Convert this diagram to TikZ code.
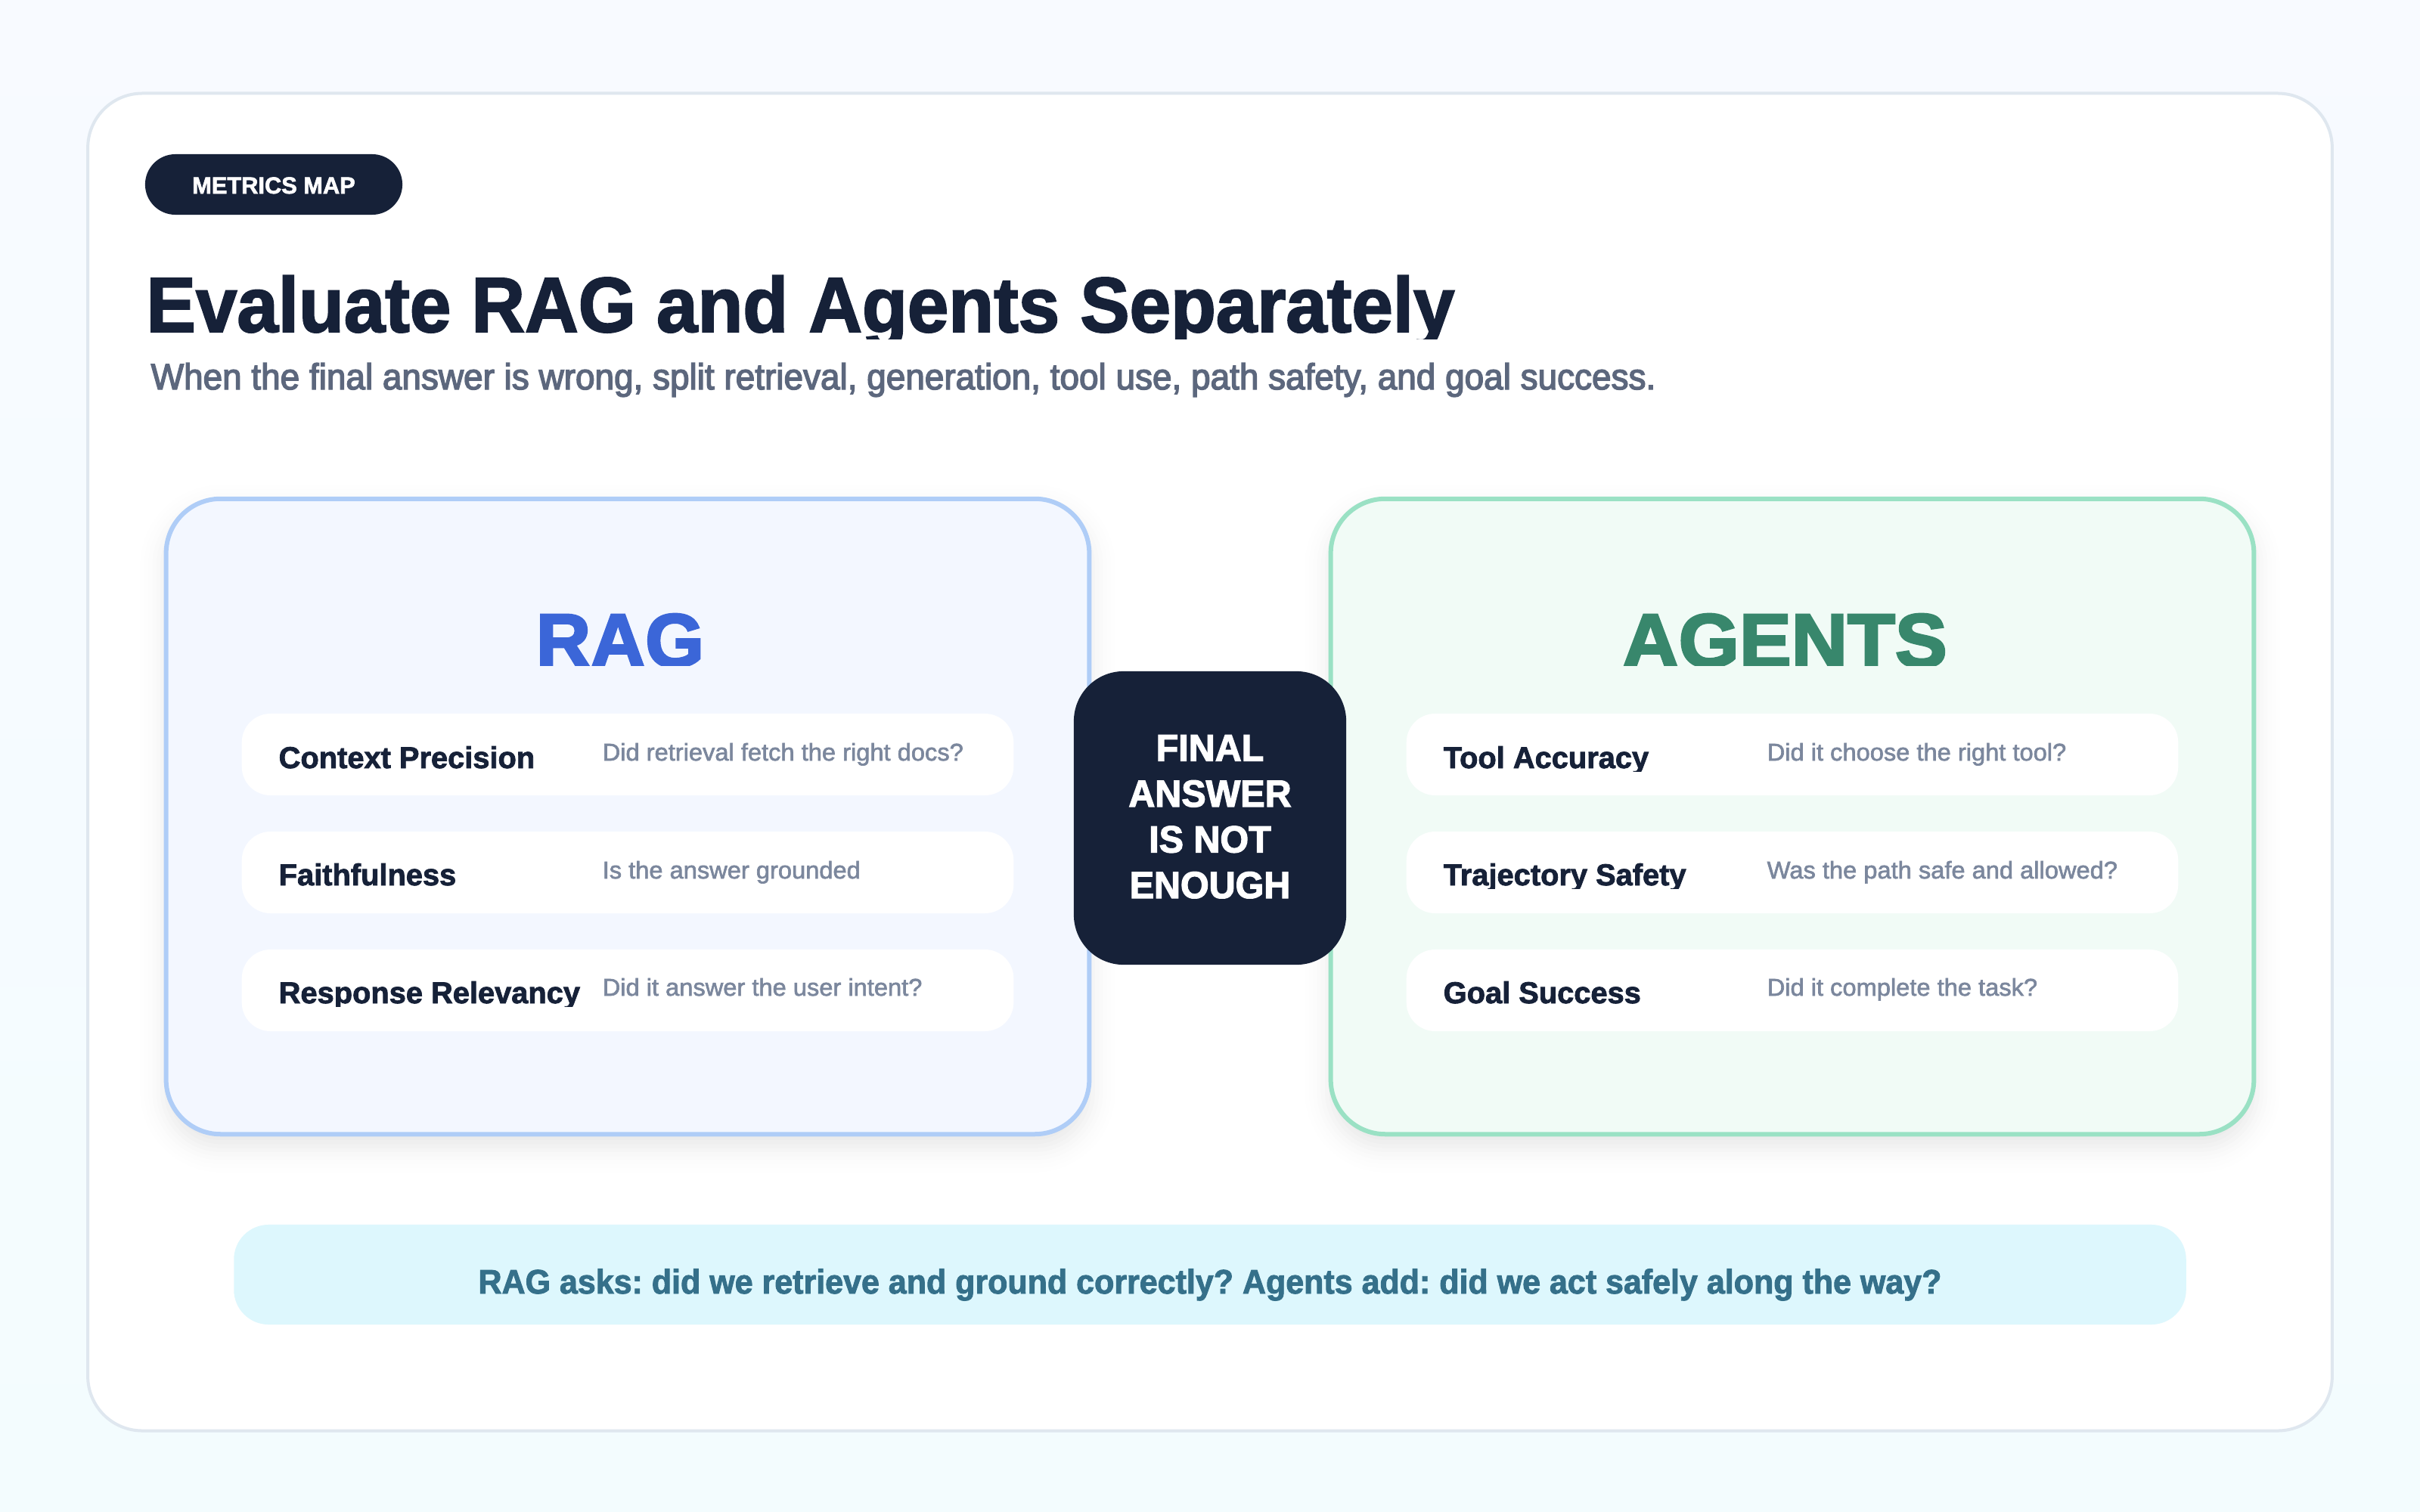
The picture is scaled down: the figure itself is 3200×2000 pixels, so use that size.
\documentclass[tikz,border=0pt]{standalone}
\usepackage{fontspec}
\usepackage{xcolor}
\setmainfont{Liberation Sans}
\newfontfamily\titlefont[FakeStretch=0.95,FakeBold=2]{Liberation Sans}
\newfontfamily\subfont[FakeStretch=0.953,FakeBold=3]{Liberation Sans}
\newfontfamily\descfont[FakeStretch=1.02,FakeBold=2]{Liberation Sans}
\newfontfamily\heavyfont[FakeStretch=0.97,FakeBold=2.5]{Liberation Sans}
\newfontfamily\headfont[FakeBold=3]{Liberation Sans}
\newfontfamily\headwidefont[FakeStretch=1.03,FakeBold=3]{Liberation Sans}
\newfontfamily\metricfont[FakeStretch=0.995,FakeBold=2]{Liberation Sans}
\newfontfamily\notefont[FakeStretch=0.955,FakeBold=2]{Liberation Sans}
\definecolor{navy}{HTML}{162138}
\definecolor{subgray}{HTML}{5C677D}
\definecolor{descgray}{HTML}{7B879D}
\definecolor{ragblue}{HTML}{3B66D8}
\definecolor{ragfill}{HTML}{F3F7FF}
\definecolor{ragline}{HTML}{AFCDF7}
\definecolor{agentgreen}{HTML}{38876C}
\definecolor{agentfill}{HTML}{F1FBF6}
\definecolor{agentline}{HTML}{9AE1C4}
\definecolor{notefill}{HTML}{DDF7FD}
\definecolor{notetext}{HTML}{35708A}
\definecolor{cardline}{HTML}{DFE7EF}
\frenchspacing
\begin{document}
\begin{tikzpicture}[x=0.01cm,y=-0.01cm]
		\tikzset{box/.style = {shape=rectangle, inner sep=0pt, outer sep=0pt}}
		\tikzset{panel/.style = {box, minimum width=12.2cm, minimum height=8.4cm, rounded corners=0.72cm, line width=0.06cm}}
		\tikzset{row/.style = {box, fill=white, minimum width=10.2cm, minimum height=1.08cm, rounded corners=0.38cm}}
		\tikzset{head/.style = {inner sep=0pt, anchor=base}}
		\tikzset{metric/.style = {inner sep=0pt, anchor=base west, text=navy, font=\metricfont\fontsize{11.38}{13}\selectfont\bfseries}}
		\tikzset{question/.style = {inner sep=0pt, anchor=base west, text=descgray, font=\descfont\fontsize{9.1}{11}\selectfont}}

		\useasboundingbox (0,0) rectangle (3200,2000);
		\node[box, minimum width=32cm, minimum height=20cm, top color=white!40!ragfill, bottom color=notefill!35!white] (page) at (1600,1000) {};
		\node[box, draw=cardline, line width=0.04cm, fill=white, minimum width=29.66cm, minimum height=17.68cm, rounded corners=0.72cm] (card) at (1600,1008) {};

		\node[box, fill=navy, minimum width=3.4cm, minimum height=0.8cm, rounded corners=0.4cm] (tag) at (362,244) {};
		\node[inner sep=0pt, anchor=base, text=white, font=\metricfont\fontsize{8.8}{10}\selectfont\bfseries] (tagtext) at (362,256) {METRICS MAP};

		\begin{scope}
			\clip (0,0) rectangle (3200,448);
			\node[inner sep=0pt, anchor=base west, text=navy, font=\titlefont\fontsize{29.3}{32}\selectfont\bfseries] (title) at (193,439) {Evaluate RAG and Agents Separately};
		\end{scope}
		\node[inner sep=0pt, anchor=base west, text=subgray, font=\subfont\fontsize{13.7}{16}\selectfont] (subtitle) at (199,515) {When the final answer is wrong, split retrieval, generation, tool use, path safety, and goal success.};

		\foreach \i in {0,...,15} {
			\pgfmathsetmacro{\grow}{40-\i*80/15}
			\pgfmathsetmacro{\soft}{0.012*exp(-2*((\i-7.5)/7.5)^2)}
			\fill[navy, opacity=\soft, rounded corners=0.72cm+\grow*0.01cm] (220-\grow,660-\grow+16) rectangle (1440+\grow,1500+\grow+16);
			\fill[navy, opacity=\soft, rounded corners=0.72cm+\grow*0.01cm] (1760-\grow,660-\grow+16) rectangle (2980+\grow,1500+\grow+16);
		}

		\node[panel, draw=ragline, fill=ragfill] (rag) at (830,1080) {};
		\node[panel, draw=agentline, fill=agentfill] (agents) at (2370,1080) {};

		\begin{scope}
			\clip (0,0) rectangle (3200,880);
			\node[head, text=ragblue, font=\headfont\fontsize{28.45}{30}\selectfont\bfseries] (raghead) at (820,882) {RAG};
			\node[head, text=agentgreen, font=\headwidefont\fontsize{28.45}{30}\selectfont\bfseries] (agenthead) at (2360,882) {AGENTS};
		\end{scope}

		\node[row] (R_1) at (830,998) {};
		\node[row] (R_2) at (830,1154) {};
		\node[row] (R_3) at (830,1310) {};
		\node[row] (G_1) at (2370,998) {};
		\node[row] (G_2) at (2370,1154) {};
		\node[row] (G_3) at (2370,1310) {};

		\begin{scope}
			\clip (0,900) rectangle (3200,1020);
			\node[metric] (R_1m) at (368,1016) {Context Precision};
			\node[question] (R_1q) at (796,1006) {Did retrieval fetch the right docs?};
			\node[metric] (G_1m) at (1908,1016) {Tool Accuracy};
			\node[question] (G_1q) at (2336,1006) {Did it choose the right tool?};
		\end{scope}
		\begin{scope}
			\clip (0,1060) rectangle (3200,1175);
			\node[metric] (R_2m) at (368,1171) {Faithfulness};
			\node[question] (R_2q) at (796,1162) {Is the answer grounded};
			\node[metric] (G_2m) at (1908,1171) {Trajectory Safety};
			\node[question] (G_2q) at (2336,1162) {Was the path safe and allowed?};
		\end{scope}
		\begin{scope}
			\clip (0,1220) rectangle (3200,1331);
			\node[metric] (R_3m) at (368,1327) {Response Relevancy};
			\node[question] (R_3q) at (796,1317) {Did it answer the user intent?};
			\node[metric] (G_3m) at (1908,1327) {Goal Success};
			\node[question] (G_3q) at (2336,1317) {Did it complete the task?};
		\end{scope}

		\node[box, fill=navy, minimum width=3.6cm, minimum height=3.88cm, rounded corners=0.66cm] (final) at (1600,1082) {};
		\begin{scope}
			\clip (1420,888) rectangle (1780,1188);
			\node[inner sep=0pt, anchor=base, align=center, text=white, font=\heavyfont\fontsize{14.2}{17.2}\selectfont\bfseries] (finaltext) at (1600,1188) {FINAL\\ANSWER\\IS NOT\\ENOUGH};
		\end{scope}

		\node[box, fill=notefill, minimum width=25.8cm, minimum height=1.32cm, rounded corners=0.46cm] (note) at (1600,1686) {};
		\node[inner sep=0pt, anchor=base, text=notetext, font=\notefont\fontsize{12.8}{15}\selectfont\bfseries] (notetext) at (1600,1711) {RAG asks: did we retrieve and ground correctly? Agents add: did we act safely along the way?};
	\end{tikzpicture}
\end{document}
